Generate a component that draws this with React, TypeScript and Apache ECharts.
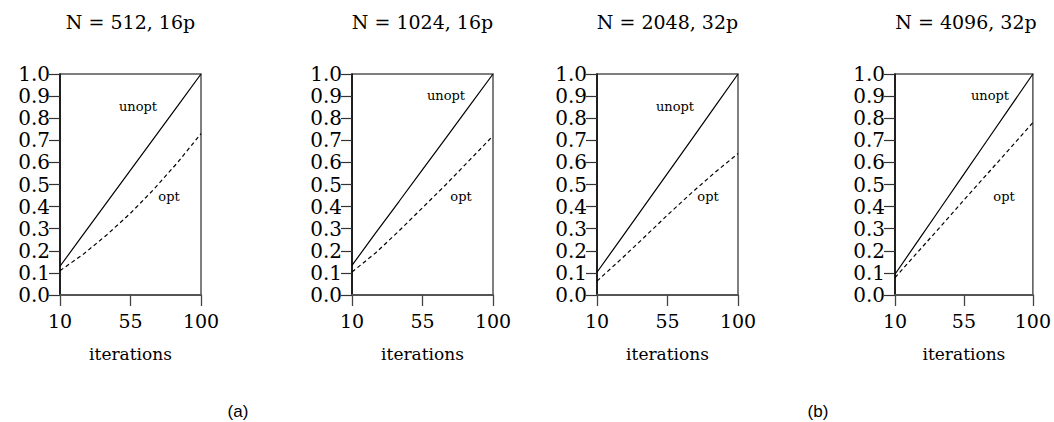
import React, { useEffect, useRef } from "react";
import * as echarts from "echarts";

const iterations = ["10", "25", "40", "55", "70", "85", "100"];
const titles = ["N = 512, 16p", "N = 1024, 16p", "N = 2048, 32p", "N = 4096, 32p"];
const unopt1 = [0.13, 0.275, 0.42, 0.565, 0.71, 0.855, 1.0];
const opt1 = [0.11, 0.185, 0.273, 0.37, 0.479, 0.599, 0.73];
const unopt2 = [0.134, 0.28, 0.423, 0.567, 0.711, 0.856, 1.0];
const opt2 = [0.104, 0.19, 0.29, 0.395, 0.5, 0.61, 0.72];
const unopt3 = [0.103, 0.252, 0.401, 0.55, 0.7, 0.85, 1.0];
const opt3 = [0.063, 0.16, 0.26, 0.362, 0.46, 0.553, 0.64];
const unopt4 = [0.094, 0.245, 0.396, 0.547, 0.698, 0.849, 1.0];
const opt4 = [0.079, 0.195, 0.312, 0.43, 0.546, 0.663, 0.78];
const unoptSeries = [unopt1, unopt2, unopt3, unopt4];
const optSeries = [opt1, opt2, opt3, opt4];
const subLabels = ["(a)", "(b)"];

const FONT = "DejaVu Serif";

const grids = [
  { left: 60, width: 141 },
  { left: 352, width: 141 },
  { left: 597, width: 141 },
  { left: 895, width: 142 },
];
const TOP = 74;
const H = 221;
const unoptPos = [
  [138, 106],
  [446, 95],
  [675, 106],
  [990, 95],
];
const optPos = [
  [169, 196],
  [461, 196],
  [708, 196],
  [1004, 196],
];

export default function App() {
  const ref = useRef<HTMLDivElement>(null);
  useEffect(() => {
    document.body.style.margin = "0";
    const chart = echarts.init(ref.current!, null, { renderer: "svg" });
    const graphic: any[] = [];
    grids.forEach((g, i) => {
      graphic.push({
        type: "text",
        x: g.left + g.width / 2,
        y: 22,
        style: {
          text: titles[i],
          fontFamily: FONT,
          fontSize: 19,
          fill: "#000",
          textAlign: "center",
          textVerticalAlign: "middle",
        },
      });
      graphic.push({
        type: "text",
        x: unoptPos[i][0],
        y: unoptPos[i][1],
        style: {
          text: "unopt",
          fontFamily: FONT,
          fontSize: 13,
          fill: "#000",
          textAlign: "center",
          textVerticalAlign: "middle",
        },
      });
      graphic.push({
        type: "text",
        x: optPos[i][0],
        y: optPos[i][1],
        style: {
          text: "opt",
          fontFamily: FONT,
          fontSize: 13,
          fill: "#000",
          textAlign: "center",
          textVerticalAlign: "middle",
        },
      });
    });
    [238, 818].forEach((x, i) => {
      graphic.push({
        type: "text",
        x,
        y: 411,
        style: {
          text: subLabels[i],
          fontFamily: "Liberation Sans",
          fontSize: 17,
          fill: "#000",
          textAlign: "center",
          textVerticalAlign: "middle",
        },
      });
    });

    const option: any = {
      animation: false,
      backgroundColor: "#fff",
      grid: grids.map((g) => ({
        left: g.left,
        width: g.width,
        top: TOP,
        height: H,
        show: true,
        borderColor: "#555",
        borderWidth: 1.5,
        backgroundColor: "transparent",
      })),
      xAxis: grids.map((_, i) => ({
        type: "category",
        gridIndex: i,
        data: iterations,
        boundaryGap: false,
        axisLine: { lineStyle: { color: "#555", width: 2 } },
        axisTick: { show: true, interval: 2, length: 11, lineStyle: { color: "#444", width: 1.3 } },
        axisLabel: { interval: 2, margin: 16, fontFamily: FONT, fontSize: 19, color: "#000" },
        splitLine: { show: false },
        name: "iterations",
        nameLocation: "middle",
        nameGap: 50,
        nameTextStyle: { fontFamily: FONT, fontSize: 17, color: "#000" },
      })),
      yAxis: grids.map((_, i) => ({
        type: "value",
        gridIndex: i,
        min: 0,
        max: 1,
        interval: 0.1,
        axisLine: { show: true, lineStyle: { color: "#000", width: 1.5 } },
        axisTick: { show: true, length: 11, lineStyle: { color: "#333", width: 1.2 } },
        axisLabel: {
          margin: 10,
          fontFamily: FONT,
          fontSize: 20,
          color: "#000",
          formatter: (v: number) => v.toFixed(1),
        },
        splitLine: { show: false },
      })),
      series: grids.flatMap((_, i) => [
        {
          type: "line",
          name: "unopt",
          xAxisIndex: i,
          yAxisIndex: i,
          data: unoptSeries[i],
          showSymbol: false,
          lineStyle: { color: "#000", width: 1.2 },
        },
        {
          type: "line",
          name: "opt",
          xAxisIndex: i,
          yAxisIndex: i,
          data: optSeries[i],
          showSymbol: false,
          lineStyle: { color: "#000", width: 1.2, type: [4, 3] },
        },
      ]),
      graphic,
    };
    chart.setOption(option);
    return () => chart.dispose();
  }, []);
  return <div ref={ref} style={{ width: 1054, height: 422 }} />;
}
